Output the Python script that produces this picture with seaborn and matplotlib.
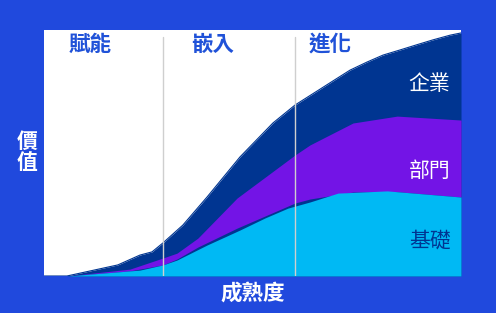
import matplotlib
matplotlib.use("Agg")
import matplotlib.pyplot as plt
import seaborn as sns
import pandas as pd
import numpy as np

# ---- data (maturity 0-100 on x, value 0-100 on y) ----
total_x = [0, 5.5, 17.7, 23.0, 25.9, 28.5, 33.3, 39.1, 47.0, 54.9, 60.2, 65.5, 69.3,
           73.4, 77.5, 81.3, 85.4, 89.4, 93.3, 97.4, 100]
total_y = [0, 0, 4.5, 8.5, 9.8, 13.4, 20.7, 32.1, 48.4, 62.2, 69.5, 75.2, 79.3,
           83.7, 87.0, 89.8, 91.9, 94.0, 96.0, 97.9, 98.8]

dept_x = [0, 5.5, 20.6, 28.5, 31.9, 36.9, 46.3, 60.2, 63.8, 74.1, 84.7, 100]
dept_y = [0, 0, 2.8, 7.3, 9.3, 15.4, 31.7, 49.2, 53.3, 62.2, 65.0, 63.4]

base_x = [0, 5.5, 23.0, 28.5, 31.9, 39.1, 47.0, 53.0, 58.5, 63.8, 70.5, 82.3, 100]
base_y = [0, 0, 2.4, 4.5, 6.5, 12.6, 18.7, 23.6, 27.6, 30.1, 33.7, 34.6, 32.1]
dept_floor = [0, 0, 2.4, 4.5, 6.9, 13.9, 20.0, 24.9, 28.9, 31.3, 33.9, 34.6, 32.1]

stage_labels = ["賦能", "嵌入", "進化"]
stage_label_x = [11, 40.5, 68.5]
stage_bounds = [28.5, 60.2]
layer_labels = ["企業", "部門", "基礎"]
layer_label_y = [78, 42.5, 14.5]

BG = "#2049DD"
NAVY = "#003591"
PURPLE = "#7314E6"
CYAN = "#00B9F4"

sns.set_theme(style="white")
plt.rcParams["font.family"] = ["Noto Sans CJK TC", "DejaVu Sans"]

fig = plt.figure(figsize=(4.96, 3.13), dpi=100, facecolor=BG)
ax = fig.add_axes([44 / 496, 37 / 313, 417 / 496, 246 / 313])
ax.set_facecolor("white")

df_t = pd.DataFrame({"x": total_x, "y": total_y})
df_d = pd.DataFrame({"x": dept_x, "y": dept_y})
df_b = pd.DataFrame({"x": base_x, "y": base_y, "f": dept_floor})

# enterprise (navy) area
ax.fill_between(df_t.x, 0, df_t.y, color=NAVY, lw=0, zorder=1)
sns.lineplot(data=df_t, x="x", y="y", color=NAVY, lw=0.8, ax=ax, zorder=1.5)
# department (purple) area, its floor sits slightly above the base layer
floor_on_dept = np.interp(df_d.x, df_b.x, df_b.f)
ax.fill_between(df_d.x, floor_on_dept, df_d.y, color=PURPLE, lw=0, zorder=2)
# base (cyan) area
ax.fill_between(df_b.x, 0, df_b.y, color=CYAN, lw=0, zorder=3)

# stage separators
for b in stage_bounds:
    ax.plot([b, b], [0, 97.2], color="#CFCFCF", lw=1.0, zorder=4)

for lab, x in zip(stage_labels, stage_label_x):
    ax.text(x, 94.3, lab, ha="center", va="center", fontsize=15.5,
            fontweight="bold", color="#2052D8", zorder=5)

layer_colors = ["white", "white", NAVY]
for lab, y, c in zip(layer_labels, layer_label_y, layer_colors):
    ax.text(97.5, y, lab, ha="right", va="center", fontsize=15,
            fontweight="light", color=c, zorder=5)

ax.set_xlim(0, 100)
ax.set_ylim(0, 100)
ax.set_xticks([])
ax.set_yticks([])
ax.set_xlabel("")
ax.set_ylabel("")
for s in ax.spines.values():
    s.set_visible(False)

fig.text(27 / 496, 1 - 152 / 313, "價\n值", ha="center", va="center",
         fontsize=15, fontweight="bold", color="white", linespacing=1.05)
fig.text(253 / 496, 1 - 293 / 313, "成熟度", ha="center", va="center",
         fontsize=15.5, fontweight="bold", color="white")

fig.savefig("out.png", dpi=100, facecolor=BG)
